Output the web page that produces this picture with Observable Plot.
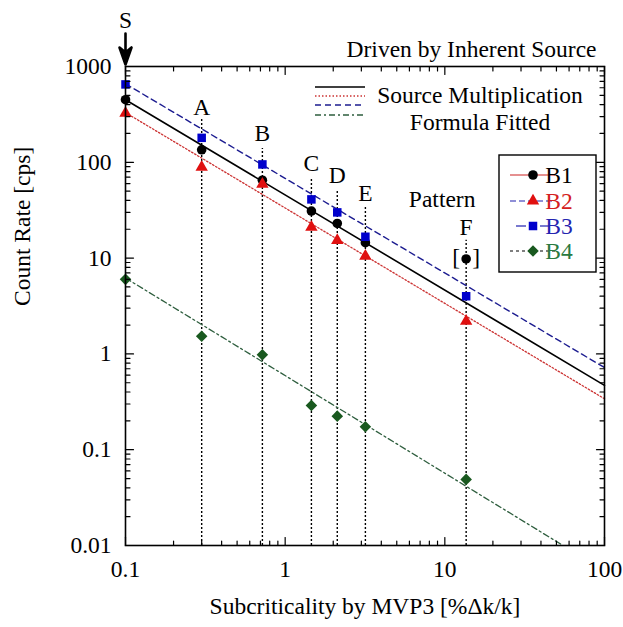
<!DOCTYPE html>
<html><head><meta charset="utf-8">
<script src="https://cdn.jsdelivr.net/npm/d3@7"></script>
<script src="https://cdn.jsdelivr.net/npm/@observablehq/plot@0.6"></script>
<style>body{margin:0;background:#fff}</style>
</head><body><div id="chart"></div>
<script>
// ---- data ----
const pointLabels = ["S", "A", "B", "C", "D", "E", "F"];
const xValues = [0.1, 0.3, 0.72, 1.46, 2.12, 3.18, 13.6];
const b1 = [450, 135, 65, 31, 23, 14.5, 9.8];
const b2 = [326, 89, 59, 21, 15.3, 10.5, 2.2];
const b3 = [650, 180, 95, 41, 30, 16.7, 4.0];
const b4 = [6.0, 1.53, 0.98, 0.29, 0.224, 0.174, 0.049];
const labelY = [null, 373, 200, 97, 72, 47, 21];
const ruleTop = [null, 294, 139, 69, 51, 34, 15.4];
const fitX = [0.1, 100];
const fitB1 = [450, 0.47];
const fitB2 = [330, 0.34];
const fitB3 = [660, 0.72];
const fitB4X = [0.1, 55];
const fitB4 = [6.2, 0.01];
const xTickLabels = [0.1, 1, 10, 100];
const yTickLabels = [0.01, 0.1, 1, 10, 100, 1000];
const seriesNames = ["B1", "B2", "B3", "B4"];
const titleText = "Driven by Inherent Source";
const xLabel = "Subcriticality by MVP3 [%\u0394k/k]";
const yLabel = "Count Rate [cps]";
const fitLegend = ["Source Multiplication", "Formula Fitted"];
const patternText = "Pattern";

// ---- layout & styles ----
const W = 623, H = 627, mL = 125, mR = 19, mT = 66, mB = 82;
const font = "'Liberation Serif','Times New Roman',serif";
const FS = 23.5;
const styles = {
  B1: {symbol: "circle", fill: "#000000", r: 4.8, text: "#000000", fitStroke: "#000000", fitDash: null, fitWidth: 1.6},
  B2: {symbol: "triangle", fill: "#e01010", r: 4.6, text: "#d42020", fitStroke: "#cc3333", fitDash: "1.5,2", fitWidth: 1.3},
  B3: {symbol: "square", fill: "#0000cc", r: 4.8, text: "#2424b0", fitStroke: "#1c1c90", fitDash: "6,4", fitWidth: 1.4},
  B4: {symbol: "diamond2", fill: "#19591f", r: 5.2, text: "#2a7a40", fitStroke: "#2e5e3e", fitDash: "6,3,2,3", fitWidth: 1.3}
};
const seriesValues = {B1: b1, B2: b2, B3: b3, B4: b4};

const rows = pointLabels.map((l, i) => ({label: l, x: xValues[i], labelY: labelY[i], ruleTop: ruleTop[i]}));
const fitLines = [
  {key: "B1", pts: fitX.map((x, i) => ({x, y: fitB1[i]}))},
  {key: "B2", pts: fitX.map((x, i) => ({x, y: fitB2[i]}))},
  {key: "B3", pts: fitX.map((x, i) => ({x, y: fitB3[i]}))},
  {key: "B4", pts: fitB4X.map((x, i) => ({x, y: fitB4[i]}))}
];

// minor ticks (axis decoration)
const minorX = [], minorY = [];
for (let i = 0; i < xTickLabels.length - 1; i++) for (let k = 2; k <= 9; k++) minorX.push(xTickLabels[i] * k);
for (let i = 0; i < yTickLabels.length - 1; i++) for (let k = 2; k <= 9; k++) minorY.push(yTickLabels[i] * k);

const tickShape = {draw(c, l) { c.moveTo(0, 0); c.lineTo(0, -l); }};
function ticks(vals, side, len) {
  const horiz = side === "left" || side === "right";
  const rot = {bottom: 0, top: 180, left: 90, right: -90}[side];
  return Plot.vector(vals, {
    [horiz ? "y" : "x"]: d => d, frameAnchor: side, length: len, rotate: rot,
    anchor: "start", shape: tickShape, stroke: "black", strokeWidth: 1.2
  });
}
const arrowShape = {draw(c, l) {
  c.moveTo(0, -10); c.lineTo(0, -l);
  c.moveTo(0, 0); c.lineTo(-6, -17); c.lineTo(0, -12); c.lineTo(6, -17); c.closePath();
}};

const marks = [
  // vertical dotted guides
  Plot.ruleX(rows.filter(d => d.ruleTop != null), {x: "x", y1: () => yTickLabels[0], y2: "ruleTop", stroke: "black", strokeWidth: 1.4, strokeDasharray: "2,2"}),
  // fitted lines
  ...fitLines.map(f => Plot.line(f.pts, {x: "x", y: "y", stroke: styles[f.key].fitStroke, strokeWidth: styles[f.key].fitWidth, strokeDasharray: styles[f.key].fitDash})),
  // points
  ...seriesNames.map(k => Plot.dot(xValues.map((x, i) => ({x, y: seriesValues[k][i]})), {
    x: "x", y: "y", symbol: () => styles[k].symbol, r: styles[k].r, fill: styles[k].fill, stroke: "none"
  })),
  // frame & ticks
  Plot.frame({stroke: "black", strokeWidth: 1.6}),
  ticks(xTickLabels, "bottom", 8), ticks(minorX, "bottom", 4.5),
  ticks(xTickLabels, "top", 8), ticks(minorX, "top", 4.5),
  ticks(yTickLabels, "left", 8), ticks(minorY, "left", 4.5),
  ticks(yTickLabels, "right", 8), ticks(minorY, "right", 4.5),
  // tick labels
  Plot.text(yTickLabels, {y: d => d, frameAnchor: "left", dx: -14, textAnchor: "end", text: d => String(d), fontSize: FS, lineAnchor: "middle"}),
  Plot.text(xTickLabels, {x: d => d, frameAnchor: "bottom", dy: 24, text: d => String(d), fontSize: FS, lineAnchor: "middle"}),
  // axis labels & title
  Plot.text([xLabel], {frameAnchor: "bottom", dy: 61, text: d => d, fontSize: FS, lineAnchor: "middle"}),
  Plot.text([yLabel], {frameAnchor: "left", dx: -103, rotate: -90, text: d => d, fontSize: FS, lineAnchor: "middle"}),
  Plot.text([titleText], {frameAnchor: "top-right", dx: -8, dy: -17, textAnchor: "end", text: d => d, fontSize: FS, lineAnchor: "middle"}),
  // point labels
  Plot.text(rows.filter(d => d.labelY != null), {x: "x", y: "labelY", text: "label", fontSize: FS, lineAnchor: "middle"}),
  Plot.text(rows.slice(0, 1), {x: "x", frameAnchor: "top", dy: -46, text: "label", fontSize: FS, lineAnchor: "middle"}),
  Plot.vector(rows.slice(0, 1), {x: "x", frameAnchor: "top", dy: -2, length: 31, rotate: 0, anchor: "start", shape: arrowShape, stroke: "black", fill: "black", strokeWidth: 2.6}),
  Plot.text(rows.slice(-1), {x: "x", y: () => 41, dx: -24, text: () => patternText, fontSize: FS, lineAnchor: "middle"}),
  Plot.text(rows.slice(-1), {x: "x", y: () => b1[b1.length - 1], dx: -10, dy: -1, text: () => "[", fontSize: FS, lineAnchor: "middle"}),
  Plot.text(rows.slice(-1), {x: "x", y: () => b1[b1.length - 1], dx: 10, dy: -1, text: () => "]", fontSize: FS, lineAnchor: "middle"})
];

const svg = Plot.plot({
  width: W, height: H,
  marginLeft: mL, marginRight: mR, marginTop: mT, marginBottom: mB,
  x: {type: "log", domain: [0.1, 100], axis: null},
  y: {type: "log", domain: [0.01, 1000], axis: null},
  style: {fontFamily: font, fontSize: FS + "px", color: "black", background: "white", overflow: "visible"},
  marks
});

// ---- legends (layout in pixels) ----
const g = d3.select(svg).append("g").attr("font-family", font).attr("font-size", FS);
// fit-line legend
const fitLegendY = [87, 96, 105, 115];
seriesNames.forEach((k, i) => {
  g.append("line").attr("x1", 315).attr("x2", 365).attr("y1", fitLegendY[i]).attr("y2", fitLegendY[i])
    .attr("stroke", styles[k].fitStroke).attr("stroke-width", styles[k].fitWidth)
    .attr("stroke-dasharray", styles[k].fitDash);
});
g.append("text").attr("x", 480).attr("y", 95).attr("dy", "0.32em").attr("text-anchor", "middle").text(fitLegend[0]);
g.append("text").attr("x", 480).attr("y", 122).attr("dy", "0.32em").attr("text-anchor", "middle").text(fitLegend[1]);

// series legend box
g.append("rect").attr("x", 499).attr("y", 155).attr("width", 97).attr("height", 117)
  .attr("fill", "white").attr("stroke", "black").attr("stroke-width", 1.4);
const legY = [175, 201, 226, 251];
const legLine = {
  B1: {stroke: "#cc2222", dash: null, gap: 0},
  B2: {stroke: "#2020b0", dash: "6,3", gap: 0},
  B3: {stroke: "#2020b0", dash: null, gap: 7},
  B4: {stroke: "#000000", dash: "3,3", gap: 0}
};
seriesNames.forEach((k, i) => {
  const y = legY[i], L = legLine[k];
  if (L.gap) {
    g.append("line").attr("x1", 516).attr("x2", 533 - L.gap).attr("y1", y).attr("y2", y).attr("stroke", L.stroke).attr("stroke-width", 1.2);
    g.append("line").attr("x1", 533 + L.gap).attr("x2", 550).attr("y1", y).attr("y2", y).attr("stroke", L.stroke).attr("stroke-width", 1.2);
  } else {
    g.append("line").attr("x1", 510).attr("x2", 555).attr("y1", y).attr("y2", y).attr("stroke", L.stroke)
      .attr("stroke-width", 1.2).attr("stroke-dasharray", L.dash);
  }
  const sym = {circle: d3.symbolCircle, triangle: d3.symbolTriangle, square: d3.symbolSquare, diamond2: d3.symbolDiamond2}[styles[k].symbol];
  g.append("path").attr("transform", `translate(533,${y})`)
    .attr("d", d3.symbol(sym, Math.PI * styles[k].r * styles[k].r)())
    .attr("fill", styles[k].fill);
  g.append("text").attr("x", 559).attr("y", y).attr("dy", "0.32em").attr("fill", styles[k].text).text(k);
});

document.getElementById("chart").appendChild(svg);
</script>
</body></html>
